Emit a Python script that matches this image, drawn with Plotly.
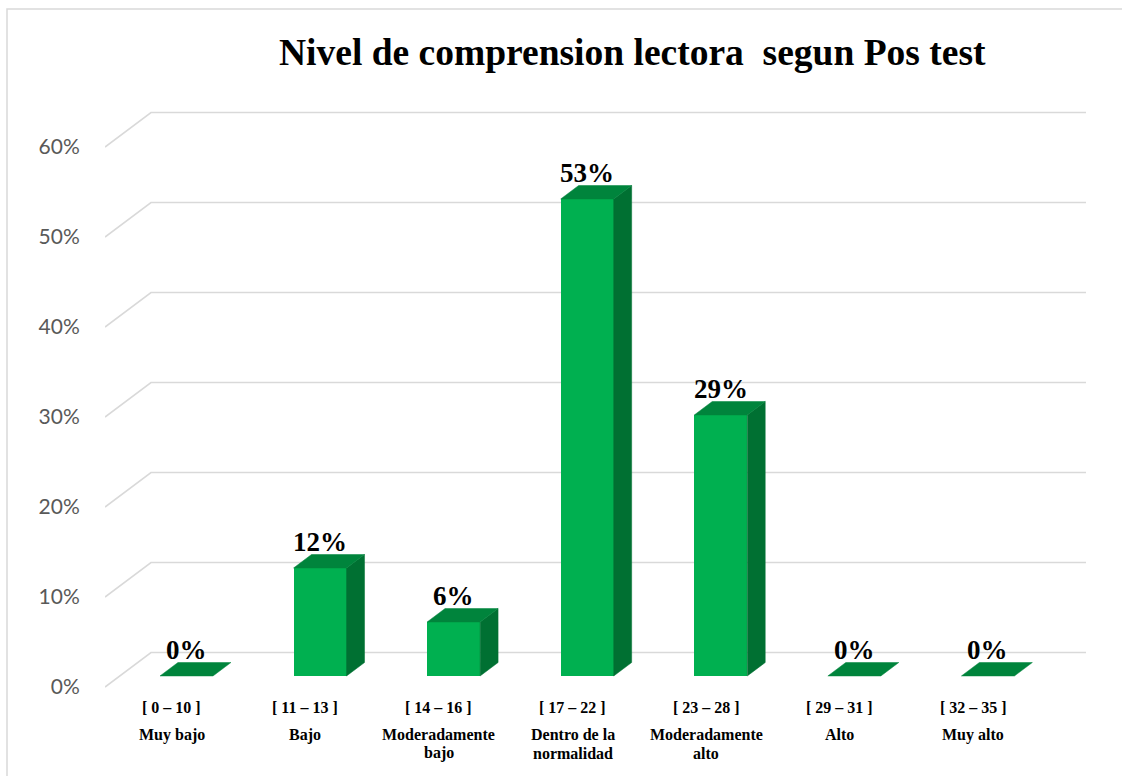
import plotly.graph_objects as go

# ---- data ----
ranges = ["[ 0 – 10 ]", "[ 11 – 13 ]", "[ 14 – 16 ]", "[ 17 – 22 ]", "[ 23 – 28 ]", "[ 29 – 31 ]", "[ 32 – 35 ]"]
levels = ["Muy bajo", "Bajo", "Moderadamente<br>bajo", "Dentro de la<br>normalidad", "Moderadamente<br>alto", "Alto", "Muy alto"]
values = [0, 12, 6, 53, 29, 0, 0]
tick_vals = [0, 10, 20, 30, 40, 50, 60]
tick_text = ["0%", "10%", "20%", "30%", "40%", "50%", "60%"]
title = "Nivel de comprension lectora\u00a0 segun Pos test"

# ---- geometry (pixel layout constants) ----
W, H = 1122, 776
PL, PR = 105, 1100          # plot area left/right (px)
PT, PB = 93, 700            # plot area top/bottom (px)
Y0PX = 687                  # pixel of value 0 on front plane
PXY = 9.0                   # px per percent
n = len(values)
PXX = (1040 - 105) / n      # px per category
xr = [-0.5, -0.5 + (PR - PL) / PXX]
yr = [(Y0PX - PB) / PXY, (Y0PX - PT) / PXY]

DX = 46 / PXX               # depth vector (x units per unit depth)
DY = 34.5 / PXY             # depth vector (y units per unit depth)
ZF, ZB = 0.32, 0.71         # bar front / back depth
BW = 53 / PXX               # bar width

GRID = "#D9D9D9"
FRONT = "#00B050"
TOP = "#00843C"
SIDE = "#007032"


def py2paper(py):
    return (PB - py) / (PB - PT)


def px2paper(px):
    return (px - PL) / (PR - PL)


fig = go.Figure()

# gridlines (front diagonal + back wall) as shapes below traces
shapes = []
for t in tick_vals:
    x_a, y_a = -0.5, t
    x_b, y_b = -0.5 + DX, t + DY
    x_c = n - 0.5 + DX
    shapes.append(dict(type="path", xref="x", yref="y", layer="below",
                       path=f"M {x_a},{y_a} L {x_b},{y_b} L {x_c},{y_b}",
                       line=dict(color=GRID, width=1.6)))

# bars: side + top faces as polygons, front face as bar
for i, v in enumerate(values):
    cx = i + ZF * DX
    xl, xrr = cx - BW / 2, cx + BW / 2
    bf = ZF * DY
    d = (ZB - ZF)
    if v > 0:
        fig.add_trace(go.Scatter(
            x=[xrr, xrr, xrr + d * DX, xrr + d * DX, xrr],
            y=[bf, bf + v, bf + v + d * DY, bf + d * DY, bf],
            mode="lines", fill="toself", fillcolor=SIDE,
            line=dict(color=SIDE, width=0.5),
            hoverinfo="skip", showlegend=False))
    fig.add_trace(go.Scatter(
        x=[xl, xrr, xrr + d * DX, xl + d * DX, xl],
        y=[bf + v, bf + v, bf + v + d * DY, bf + v + d * DY, bf + v],
        mode="lines", fill="toself", fillcolor=TOP,
        line=dict(color=TOP, width=0.5),
        hoverinfo="skip", showlegend=False))

fig.add_trace(go.Bar(
    x=[i + ZF * DX for i in range(n)], y=values, base=[ZF * DY] * n,
    width=BW, marker=dict(color=FRONT, line=dict(width=0)),
    hoverinfo="skip", showlegend=False))

annotations = []
for i, v in enumerate(values):
    annotations.append(dict(
        x=i + ZF * DX, y=v + ZB * DY, xref="x", yref="y",
        text=f"<b>{v}%</b>", showarrow=False, yanchor="middle", yshift=13,
        font=dict(family="Liberation Serif", size=27, color="black")))
    annotations.append(dict(
        x=i, y=py2paper(707), xref="x", yref="paper",
        text=f"<b>{ranges[i]}</b>", showarrow=False, yanchor="middle",
        font=dict(family="Liberation Serif", size=16, color="black")))
    for k, line in enumerate(levels[i].split("<br>")):
        annotations.append(dict(
            x=i, y=py2paper(735 + 18 * k), xref="x", yref="paper",
            text=f"<b>{line}</b>", showarrow=False, yanchor="middle",
            font=dict(family="Liberation Serif", size=16, color="black")))

annotations.append(dict(
    x=px2paper(632), y=py2paper(52), xref="paper", yref="paper",
    text=f"<b>{title}</b>", showarrow=False, xanchor="center", yanchor="middle",
    font=dict(family="Liberation Serif", size=37.5, color="black")))

shapes.append(dict(type="rect", xref="paper", yref="paper",
                   x0=px2paper(7), x1=px2paper(1140),
                   y0=py2paper(800), y1=py2paper(9),
                   line=dict(color=GRID, width=1.5), layer="below"))

fig.update_layout(
    width=W, height=H,
    margin=dict(l=PL, r=W - PR, t=PT, b=H - PB, pad=0),
    paper_bgcolor="white", plot_bgcolor="white",
    bargap=0,
    xaxis=dict(range=xr, showgrid=False, zeroline=False, showticklabels=False, fixedrange=True),
    yaxis=dict(range=yr, showgrid=False, zeroline=False, tickvals=tick_vals, ticktext=tick_text,
               ticks="outside", ticklen=20, tickcolor="rgba(0,0,0,0)",
               tickfont=dict(family="Lato", size=21, color="#595959"), fixedrange=True),
    annotations=annotations,
    shapes=shapes,
)

fig.write_html("out.html", config={"displayModeBar": False},
               post_script="document.body.style.margin='0';document.body.style.overflow='hidden';")
